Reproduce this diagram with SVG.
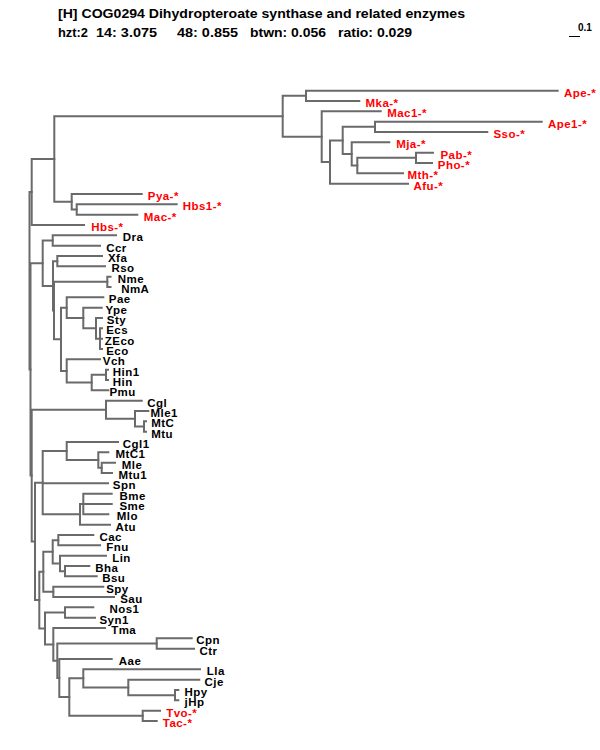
<svg xmlns="http://www.w3.org/2000/svg" width="600" height="750" viewBox="0 0 600 750">
<style>
.br{fill:none;stroke:#6a6a6a;stroke-width:2;stroke-linecap:square}
.t{font-family:"Liberation Sans",Arial,sans-serif;font-size:11.5px;font-weight:bold;fill:#000;letter-spacing:0.45px}
.r{fill:#ff0000}
.hd{font-family:"Liberation Sans",Arial,sans-serif;font-size:12.5px;fill:#000;font-weight:bold}
</style>
<rect width="600" height="750" fill="#fff"/>
<g id="header">
<text class="hd" x="58" y="18" textLength="407" lengthAdjust="spacingAndGlyphs">[H] COG0294 Dihydropteroate synthase and related enzymes</text>
<text class="hd" x="58" y="37" textLength="30" lengthAdjust="spacingAndGlyphs">hzt:2</text>
<text class="hd" x="96" y="37" textLength="61" lengthAdjust="spacingAndGlyphs">14: 3.075</text>
<text class="hd" x="177" y="37" textLength="61" lengthAdjust="spacingAndGlyphs">48: 0.855</text>
<text class="hd" x="250" y="37" textLength="76" lengthAdjust="spacingAndGlyphs">btwn: 0.056</text>
<text class="hd" x="338" y="37" textLength="74" lengthAdjust="spacingAndGlyphs">ratio: 0.029</text>
<line x1="569" y1="36.5" x2="580" y2="36.5" stroke="#000" stroke-width="1"/>
<text class="t" style="font-size:10px;letter-spacing:0" x="578" y="31">0.1</text>
</g>
<g id="connectors" class="br">
<path d="M29.5,192V369.4M29.5,192H31.7M29.5,369.4H30.5"/>
<path d="M30.5,263.2V475.55M30.5,263.2H42.7M30.5,475.55H31.7"/>
<path d="M31.7,409.7V541.4M31.7,409.7H106M31.7,541.4H35"/>
<path d="M35,482.7V600.1M35,482.7H42.7M35,600.1H39.3"/>
<path d="M31.7,159V225M31.7,159H54.3M31.7,225H84"/>
<path d="M54.3,116.3V201.75M54.3,116.3H282.7M54.3,201.75H71.7"/>
<path d="M282.7,95.85V136.7M282.7,95.85H306M282.7,136.7H321.7"/>
<path d="M306,90.7V101M306,90.7H557.7M306,101H359.3"/>
<path d="M321.7,111.3V162.05M321.7,111.3H380.7M321.7,162.05H330"/>
<path d="M330,140.4V183.7M330,140.4H342.7M330,183.7H408"/>
<path d="M342.7,126.85V153.95M342.7,126.85H375M342.7,153.95H351.7"/>
<path d="M375,121.7V132M375,121.7H541.7M375,132H487.3"/>
<path d="M351.7,142.3V165.6M351.7,142.3H389.3M351.7,165.6H357.3"/>
<path d="M357.3,157.85V173.3M357.3,157.85H416M357.3,173.3H403"/>
<path d="M416,152.7V163M416,152.7H433M416,163H432"/>
<path d="M71.7,194V209.5M71.7,194H141.7M71.7,209.5H76.7"/>
<path d="M76.7,204.3V214.7M76.7,204.3H176.7M76.7,214.7H137.3"/>
<path d="M42.7,240.5V285.9M42.7,240.5H52.7M42.7,285.9H53"/>
<path d="M52.7,235.3V245.7M52.7,235.3H116M52.7,245.7H100"/>
<path d="M53,261.15V310.6M53,261.15H57.3M53,310.6H54"/>
<path d="M57.3,256V266.3M57.3,256H102M57.3,266.3H105"/>
<path d="M54,281.85V339.3M54,281.85H107.3M54,339.3H61"/>
<path d="M107.3,276.7V287M107.3,276.7H110.5M107.3,287H110.5"/>
<path d="M61,307.65V370.95M61,307.65H66.7M61,370.95H66.7"/>
<path d="M66.7,297.3V318M66.7,297.3H103.3M66.7,318H83.3"/>
<path d="M83.3,307.7V328.3M83.3,307.7H101.7M83.3,328.3H96"/>
<path d="M96,318V338.65M96,318H102M96,338.65H100"/>
<path d="M100,328.3V349M100,328.3H102M100,338.7H102M100,349H102"/>
<path d="M66.7,359.3V382.6M66.7,359.3H100M66.7,382.6H91.7"/>
<path d="M91.7,374.85V390.3M91.7,374.85H106M91.7,390.3H108.3"/>
<path d="M106,369.7V380M106,369.7H108M106,380H108"/>
<path d="M106,400.7V418.75M106,400.7H141.7M106,418.75H135"/>
<path d="M135,411V426.5M135,411H148.3M135,426.5H144"/>
<path d="M144,421.3V431.7M144,421.3H146M144,431.7H146"/>
<path d="M42.7,451.05V514.35M42.7,451.05H66.7M42.7,483.3H108M42.7,514.35H80"/>
<path d="M66.7,442V460.1M66.7,442H118M66.7,460.1H98.3"/>
<path d="M98.3,452.3V467.85M98.3,452.3H108.3M98.3,467.85H101.7"/>
<path d="M101.7,462.7V473M101.7,462.7H115M101.7,473H112"/>
<path d="M80,504V524.7M80,504H83.3M80,524.7H110"/>
<path d="M83.3,493.7V514.3M83.3,493.7H111.7M83.3,504H111.7M83.3,514.3H108.3"/>
<path d="M39.3,571.8V628.45M39.3,571.8H43.3M39.3,628.45H45"/>
<path d="M43.3,551.8V591.85M43.3,551.8H52.7M43.3,591.85H53.3"/>
<path d="M52.7,540.15V563.4M52.7,540.15H58.3M52.7,563.4H60"/>
<path d="M58.3,535V545.3M58.3,535H93.3M58.3,545.3H100"/>
<path d="M60,555.7V571.15M60,555.7H106M60,571.15H65"/>
<path d="M65,566V576.3M65,566H89.3M65,576.3H96.7"/>
<path d="M53.3,586.7V597M53.3,586.7H103.3M53.3,597H114"/>
<path d="M45,612.5V644.4M45,612.5H65M45,644.4H53.3"/>
<path d="M65,607.3V617.7M65,607.3H93.3M65,617.7H95"/>
<path d="M53.3,628V660.8M53.3,628H105M53.3,660.8H57.3"/>
<path d="M57.3,643.5V678.05M57.3,643.5H156.7M57.3,678.05H59.3"/>
<path d="M156.7,638.3V648.7M156.7,638.3H191.7M156.7,648.7H194"/>
<path d="M59.3,659V697.1M59.3,659H111.7M59.3,697.1H69.3"/>
<path d="M69.3,678.35V715.85M69.3,678.35H83.3M69.3,715.85H142.7"/>
<path d="M83.3,669.3V687.4M83.3,669.3H200M83.3,687.4H128.3"/>
<path d="M128.3,679.7V695.15M128.3,679.7H199.3M128.3,695.15H175"/>
<path d="M175,690V700.3M175,690H178.3M175,700.3H178.3"/>
<path d="M142.7,710.7V721M142.7,710.7H160M142.7,721H156.7"/>
</g>
<g id="leaves">
<g id="n-Ape"><text class="t r" x="564" y="96.7">Ape-*</text></g>
<g id="n-Mka"><text class="t r" x="365.5" y="107">Mka-*</text></g>
<g id="n-Mac1"><text class="t r" x="387.2" y="117.3">Mac1-*</text></g>
<g id="n-Ape1"><text class="t r" x="548" y="127.7">Ape1-*</text></g>
<g id="n-Sso"><text class="t r" x="493.5" y="138">Sso-*</text></g>
<g id="n-Mja"><text class="t r" x="396.2" y="148.3">Mja-*</text></g>
<g id="n-Pab"><text class="t r" x="440.5" y="158.7">Pab-*</text></g>
<g id="n-Pho"><text class="t r" x="437.8" y="169">Pho-*</text></g>
<g id="n-Mth"><text class="t r" x="407.5" y="179.3">Mth-*</text></g>
<g id="n-Afu"><text class="t r" x="413.5" y="189.7">Afu-*</text></g>
<g id="n-Pya"><text class="t r" x="147.8" y="200">Pya-*</text></g>
<g id="n-Hbs1"><text class="t r" x="182.8" y="210.3">Hbs1-*</text></g>
<g id="n-Mac"><text class="t r" x="143.8" y="220.7">Mac-*</text></g>
<g id="n-Hbs"><text class="t r" x="91.2" y="231">Hbs-*</text></g>
<g id="n-Dra"><text class="t" x="122.8" y="241.3">Dra</text></g>
<g id="n-Ccr"><text class="t" x="106.2" y="251.7">Ccr</text></g>
<g id="n-Xfa"><text class="t" x="108" y="262">Xfa</text></g>
<g id="n-Rso"><text class="t" x="111.5" y="272.3">Rso</text></g>
<g id="n-Nme"><text class="t" x="117.8" y="282.7">Nme</text></g>
<g id="n-NmA"><text class="t" x="121.2" y="293">NmA</text></g>
<g id="n-Pae"><text class="t" x="108.8" y="303.3">Pae</text></g>
<g id="n-Ype"><text class="t" x="105.5" y="313.7">Ype</text></g>
<g id="n-Sty"><text class="t" x="106.8" y="324">Sty</text></g>
<g id="n-Ecs"><text class="t" x="106.2" y="334.3">Ecs</text></g>
<g id="n-ZEco"><text class="t" x="104.8" y="344.7">ZEco</text></g>
<g id="n-Eco"><text class="t" x="106.2" y="355">Eco</text></g>
<g id="n-Vch"><text class="t" x="102.8" y="365.3">Vch</text></g>
<g id="n-Hin1"><text class="t" x="112.8" y="375.7">Hin1</text></g>
<g id="n-Hin"><text class="t" x="112.8" y="386">Hin</text></g>
<g id="n-Pmu"><text class="t" x="109.5" y="396.3">Pmu</text></g>
<g id="n-Cgl"><text class="t" x="147.2" y="406.7">Cgl</text></g>
<g id="n-Mle1"><text class="t" x="150.5" y="417">Mle1</text></g>
<g id="n-MtC"><text class="t" x="151.2" y="427.3">MtC</text></g>
<g id="n-Mtu"><text class="t" x="151.2" y="437.7">Mtu</text></g>
<g id="n-Cgl1"><text class="t" x="122.8" y="448">Cgl1</text></g>
<g id="n-MtC1"><text class="t" x="115.5" y="458.3">MtC1</text></g>
<g id="n-Mle"><text class="t" x="121.8" y="468.7">Mle</text></g>
<g id="n-Mtu1"><text class="t" x="118.5" y="479">Mtu1</text></g>
<g id="n-Spn"><text class="t" x="112.8" y="489.3">Spn</text></g>
<g id="n-Bme"><text class="t" x="119.5" y="499.7">Bme</text></g>
<g id="n-Sme"><text class="t" x="119.5" y="510">Sme</text></g>
<g id="n-Mlo"><text class="t" x="116.8" y="520.3">Mlo</text></g>
<g id="n-Atu"><text class="t" x="115.5" y="530.7">Atu</text></g>
<g id="n-Cac"><text class="t" x="99.5" y="541">Cac</text></g>
<g id="n-Fnu"><text class="t" x="106.2" y="551.3">Fnu</text></g>
<g id="n-Lin"><text class="t" x="112.2" y="561.7">Lin</text></g>
<g id="n-Bha"><text class="t" x="95.2" y="572">Bha</text></g>
<g id="n-Bsu"><text class="t" x="102.2" y="582.3">Bsu</text></g>
<g id="n-Spy"><text class="t" x="106.2" y="592.7">Spy</text></g>
<g id="n-Sau"><text class="t" x="120.2" y="603">Sau</text></g>
<g id="n-Nos1"><text class="t" x="109.5" y="613.3">Nos1</text></g>
<g id="n-Syn1"><text class="t" x="99.5" y="623.7">Syn1</text></g>
<g id="n-Tma"><text class="t" x="111.2" y="634">Tma</text></g>
<g id="n-Cpn"><text class="t" x="196.2" y="644.3">Cpn</text></g>
<g id="n-Ctr"><text class="t" x="199.5" y="654.7">Ctr</text></g>
<g id="n-Aae"><text class="t" x="118.8" y="665">Aae</text></g>
<g id="n-Lla"><text class="t" x="206.8" y="675.3">Lla</text></g>
<g id="n-Cje"><text class="t" x="204.5" y="685.7">Cje</text></g>
<g id="n-Hpy"><text class="t" x="184.5" y="696">Hpy</text></g>
<g id="n-jHp"><text class="t" x="184.5" y="706.3">jHp</text></g>
<g id="n-Tvo"><text class="t r" x="166.2" y="716.7">Tvo-*</text></g>
<g id="n-Tac"><text class="t r" x="162.8" y="727">Tac-*</text></g>
</g>
</svg>
